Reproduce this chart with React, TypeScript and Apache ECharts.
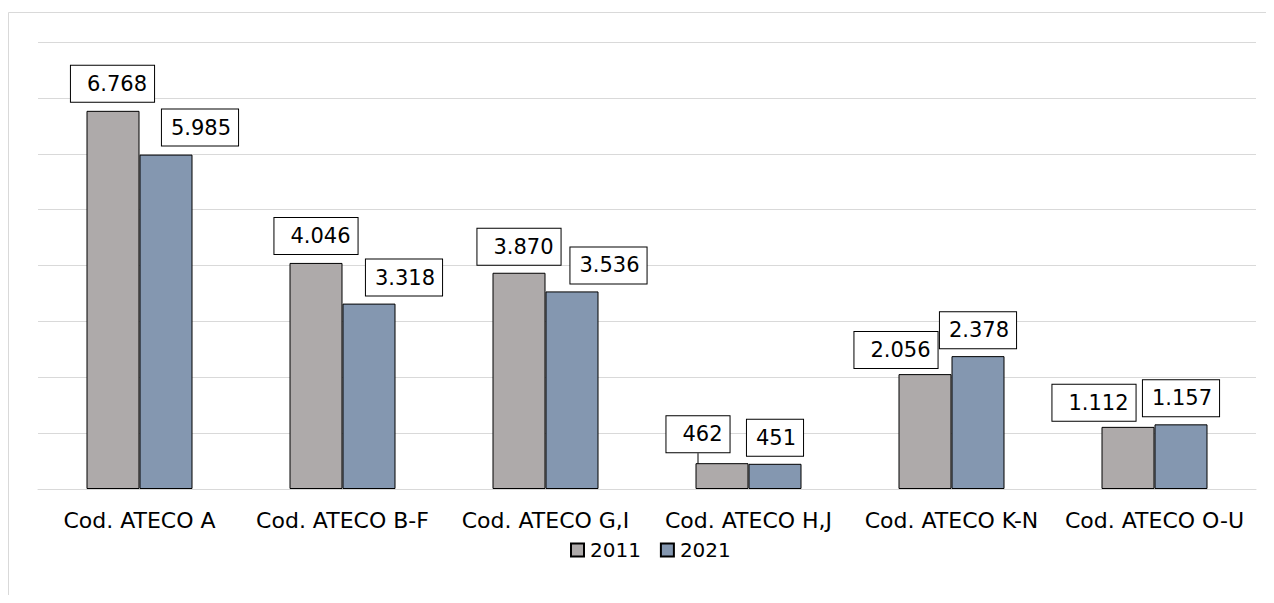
import React, { useEffect, useRef } from "react";
import * as echarts from "echarts";

const categories = [
  "Cod. ATECO A",
  "Cod. ATECO B-F",
  "Cod. ATECO G,I",
  "Cod. ATECO H,J",
  "Cod. ATECO K-N",
  "Cod. ATECO O-U",
];
const values2011 = [6768, 4046, 3870, 462, 2056, 1112];
const values2021 = [5985, 3318, 3536, 451, 2378, 1157];
const seriesNames = ["2011", "2021"];

// label nudges (dx, dy) as Excel placed them
const labelShift2011 = [[-0.5, -1], [0, -1], [0, 0], [-24, -3], [-29, 2], [-34, 2]];
const labelShift2021 = [[34, -1], [35, 0], [36.5, 0], [0, 0], [0, 0], [0, 0]];
const leader2011 = [false, false, false, true, false, false];

const FONT = "'DejaVu Sans', Verdana, sans-serif";

function fmt(v: number): string {
  return String(v).replace(/\B(?=(\d{3})+(?!\d))/g, ".");
}

export default function App() {
  const ref = useRef<HTMLDivElement>(null);
  useEffect(() => {
    document.documentElement.style.overflow = "hidden";
    document.body.style.overflow = "hidden";
    const chart = echarts.init(ref.current!, undefined, { renderer: "svg" });
    const labelBase = {
      show: true,
      position: "top",
      distance: 8,
      color: "#000",
      fontFamily: FONT,
      fontSize: 21,
      lineHeight: 24,
      backgroundColor: "#fff",
      borderColor: "#000",
      borderWidth: 1,
      formatter: (p: any) => fmt(p.value),
    };
    chart.setOption({
      animation: false,
      graphic: [
        {
          type: "rect",
          shape: { x: 0.5, y: 4.5, width: 1400, height: 800 },
          style: { fill: "none", stroke: "#D9D9D9", lineWidth: 1 },
          silent: true,
          z: -10,
        },
      ],
      grid: { left: 30, right: 18, top: 34, bottom: 106, containLabel: false },
      xAxis: {
        type: "category",
        data: categories,
        axisLine: { show: true, lineStyle: { color: "#D9D9D9", width: 1 } },
        axisTick: { show: false },
        axisLabel: {
          color: "#000",
          fontFamily: FONT,
          fontSize: 22,
          margin: 20,
          interval: 0,
        },
      },
      yAxis: {
        type: "value",
        min: 0,
        max: 8000,
        interval: 1000,
        axisLabel: { show: false },
        axisLine: { show: false },
        axisTick: { show: false },
        splitLine: { lineStyle: { color: "#D9D9D9", width: 1 } },
      },
      legend: {
        data: seriesNames,
        left: 557,
        top: 527,
        itemWidth: 13,
        itemHeight: 13,
        itemGap: 19,
        icon: "rect",
        textStyle: { color: "#000", fontFamily: FONT, fontSize: 20, padding: [0, 0, 0, 1] },
      },
      series: [
        {
          name: seriesNames[0],
          type: "bar",
          barWidth: 53,
          barGap: "0%",
          itemStyle: { color: "#AEAAAA", borderColor: "#000", borderWidth: 1 },
          label: { ...labelBase, padding: [6, 7, 6, 16] },
          labelLayout: (p: any) => ({
            dx: labelShift2011[p.dataIndex][0],
            dy: labelShift2011[p.dataIndex][1],
          }),
          labelLine: { show: false, lineStyle: { color: "#000", width: 1 } },
          data: values2011.map((v, i) => ({
            value: v,
            labelLine: { show: leader2011[i], lineStyle: { color: "#000", width: 1 } },
          })),
        },
        {
          name: seriesNames[1],
          type: "bar",
          barWidth: 53,
          barGap: "0%",
          itemStyle: { color: "#8497B0", borderColor: "#000", borderWidth: 1 },
          label: { ...labelBase, padding: [6, 7, 6, 9] },
          labelLayout: (p: any) => ({
            dx: labelShift2021[p.dataIndex][0],
            dy: labelShift2021[p.dataIndex][1],
          }),
          data: values2021,
        },
      ],
    });
    return () => chart.dispose();
  }, []);
  return <div ref={ref} style={{ width: 1266, height: 587 }} />;
}
